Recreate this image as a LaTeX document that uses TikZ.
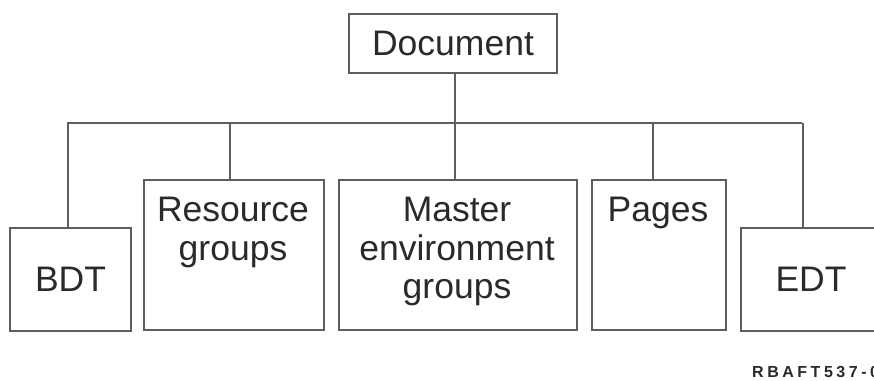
\documentclass[tikz,border=0pt]{standalone}
\usepackage{fontspec}
\setmainfont{Liberation Sans}
\newfontfamily\lblfont[LetterSpace=22]{Liberation Sans}
\begin{document}
\begin{tikzpicture}[x=1pt,y=-1pt,
  box/.style={draw=linegray, line width=2pt, rectangle, inner sep=0pt, anchor=north west},
  txt/.style={text=textblack, inner sep=0pt, align=center, font=\fontsize{35.5}{38.5}\selectfont},
  conn/.style={draw=linegray, line width=2pt}]
\definecolor{linegray}{HTML}{5E5E5E}
\definecolor{textblack}{HTML}{2A2A2A}
\useasboundingbox (0,0) rectangle (874,380);
\fill[white] (0,0) rectangle (874,380);
% boxes
\node[box, minimum width=208pt, minimum height=59pt] (doc) at (348,13) {};
\node[box, minimum width=121pt, minimum height=103pt] (bdt) at (9,227) {};
\node[box, minimum width=180pt, minimum height=150pt] (res) at (143,179) {};
\node[box, minimum width=238pt, minimum height=150pt] (mas) at (338,179) {};
\node[box, minimum width=134pt, minimum height=150pt] (pag) at (591,179) {};
\node[box, minimum width=140pt, minimum height=103pt] (edt) at (740,227) {};
% texts
\node[txt] (doct) at (doc.center) {Document};
\node[txt] (bdtt) at (bdt.center) {BDT};
\node[txt] (edtt) at (edt.center) {EDT};
\node[txt, anchor=north] (rest) at (233,197) {Resource\\groups};
\node[txt, anchor=north] (mast) at (457,197) {Master\\environment\\groups};
\node[txt, anchor=north, xshift=-1pt] (pagt) at (pag.center |- 0,197) {Pages};
% bus
\coordinate (busL) at (67,123);
\coordinate (busR) at (802,123);
\draw[conn] (busL) -- (busR);
\draw[conn] ([xshift=1.5pt]doc.south) -- ([xshift=1.5pt]doc.south |- busL);
\draw[conn] ([xshift=-2.5pt]bdt.north) -- ([xshift=-2.5pt]bdt.north |- busL);
\draw[conn] ([xshift=-4pt]res.north) -- ([xshift=-4pt]res.north |- busL);
\draw[conn] ([xshift=-3pt]mas.north) -- ([xshift=-3pt]mas.north |- busL);
\draw[conn] ([xshift=-6pt]pag.north) -- ([xshift=-6pt]pag.north |- busL);
\draw[conn] ([xshift=-8pt]edt.north) -- ([xshift=-8pt]edt.north |- busL);
% figure id
\node[anchor=west, inner sep=0pt, text=textblack, font=\lblfont\bfseries\fontsize{16}{18}\selectfont] (figid) at (752,372) {RBAFT537-0};
\end{tikzpicture}
\end{document}
